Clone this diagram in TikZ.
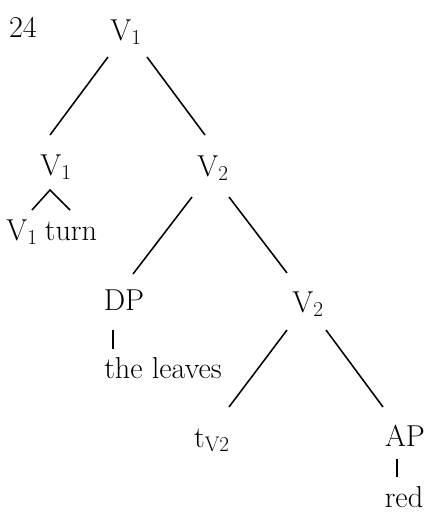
\documentclass[tikz,border=0pt]{standalone}
\usepackage{tikz}
\usetikzlibrary{calc}
\tikzset{
  lbl/.style={anchor=base, inner sep=0pt, font=\fontsize{21.5}{26}\selectfont},
  branch/.style={line width=1.1pt},
}
\begin{document}
\begin{tikzpicture}[x=0.025cm, y=-0.025cm]
    \useasboundingbox (0,0) rectangle (428,513);
    \node[lbl] (ex)   at (23,37)   {24};
    \node[lbl] (top)  at (126,40)  {V\textsubscript{1}};
    \node[lbl] (v1a)  at (56,175)  {V\textsubscript{1}};
    \node[lbl] (v1c)  at (22,240)  {V\textsubscript{1}};
    \node[lbl] (turn) at (71,240)  {turn};
    \node[lbl] (v2a)  at (213,176) {V\textsubscript{2}};
    \node[lbl] (dp)   at (124,310) {DP};
    \node[lbl] (lvs)  at (163,378) {the leaves};
    \node[lbl] (v2b)  at (308,312) {V\textsubscript{2}};
    \node[lbl] (tv)   at (212,447) {t\textsubscript{V2}};
    \node[lbl] (ap)   at (405,446) {AP};
    \node[lbl] (red)  at (404,507) {red};
    \draw[branch] ($(top.base)+(-18,17)$) -- ($(v1a.base)+(-6,-40)$);
    \draw[branch] ($(top.base)+(21,17)$) -- ($(v2a.base)+(-8,-41)$);
    \draw[branch] ($(v1c.base)+(10,-30)$) -- ($(v1a.base)+(-6,15)$) -- ($(turn.base)+(-1,-30)$);
    \draw[branch] ($(v2a.base)+(-21,21)$) -- ($(dp.base)+(9,-36)$);
    \draw[branch] ($(v2a.base)+(16,21)$) -- ($(v2b.base)+(-21,-39)$);
    \draw[branch] ($(dp.base)+(-11,20)$) -- ($(lvs.base)+(-50,-29)$);
    \draw[branch] ($(v2b.base)+(-21,18)$) -- ($(tv.base)+(17,-40)$);
    \draw[branch] ($(v2b.base)+(18,18)$) -- ($(ap.base)+(-22,-39)$);
    \draw[branch] ($(ap.base)+(-8,13)$) -- ($(red.base)+(-7,-30)$);
\end{tikzpicture}
\end{document}
